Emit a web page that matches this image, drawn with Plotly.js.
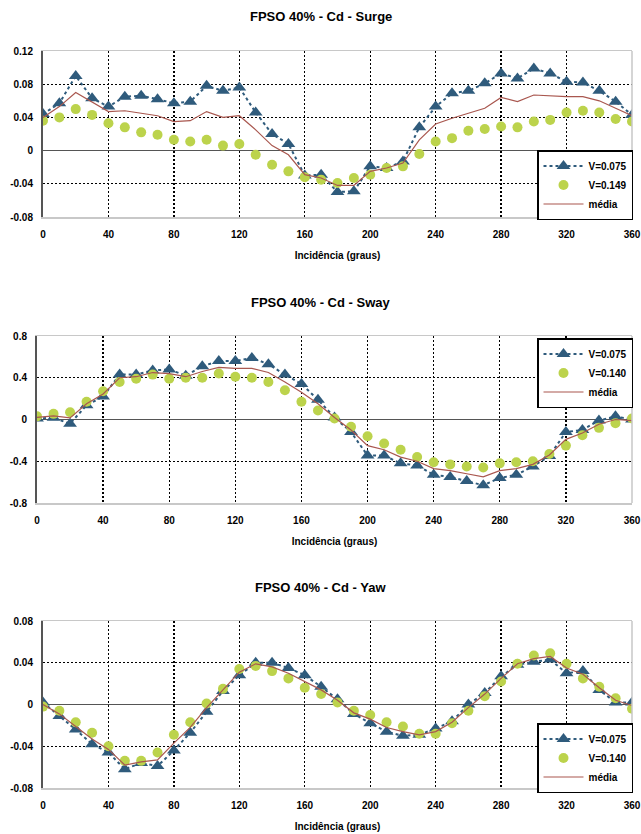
<!DOCTYPE html>
<html>
<head>
<meta charset="utf-8">
<script src="https://cdn.plot.ly/plotly-3.0.1.min.js"></script>
<style>html,body{margin:0;padding:0;background:#fff;}#chart{width:641px;height:834px;}</style>
</head>
<body>
<div id="chart"></div>
<script>
// ---------- data ----------
const angles = [0,10,20,30,40,50,60,70,80,90,100,110,120,130,140,150,160,170,180,190,200,210,220,230,240,250,260,270,280,290,300,310,320,330,340,350,360];

const surgeV075 = [0.044,0.057,0.090,0.063,0.053,0.065,0.066,0.062,0.057,0.059,0.078,0.072,0.076,0.046,0.020,0.008,-0.030,-0.029,-0.050,
                   -0.049,-0.019,-0.021,-0.013,0.028,0.053,0.069,0.072,0.081,0.093,0.087,0.099,0.093,0.083,0.082,0.072,0.059,0.043];
const surgeV149 = [0.036,0.040,0.050,0.043,0.033,0.028,0.022,0.019,0.013,0.011,0.013,0.006,0.008,-0.005,-0.017,-0.025,-0.032,-0.035,-0.039,
                   -0.033,-0.029,-0.021,-0.019,-0.004,0.011,0.015,0.024,0.026,0.029,0.028,0.035,0.037,0.046,0.048,0.046,0.038,0.035];
const surgeMedia = [0.040,0.053,0.070,0.059,0.047,0.048,0.045,0.042,0.035,0.036,0.047,0.040,0.042,0.025,0.006,-0.005,-0.029,-0.033,-0.042,
                    -0.042,-0.025,-0.021,-0.015,0.013,0.032,0.039,0.045,0.051,0.064,0.059,0.067,0.066,0.065,0.065,0.060,0.051,0.042];

const swayV075 = [0.01,0.016,-0.04,0.137,0.22,0.43,0.43,0.47,0.48,0.42,0.51,0.56,0.56,0.59,0.53,0.43,0.34,0.19,0.02,
                  -0.12,-0.345,-0.345,-0.42,-0.44,-0.53,-0.55,-0.59,-0.63,-0.56,-0.53,-0.45,-0.35,-0.12,-0.10,-0.01,0.03,0.0];
const swayV140 = [0.03,0.054,0.07,0.17,0.27,0.36,0.39,0.43,0.39,0.40,0.40,0.44,0.41,0.40,0.36,0.28,0.17,0.086,0.01,
                  -0.07,-0.16,-0.23,-0.29,-0.36,-0.41,-0.43,-0.45,-0.46,-0.42,-0.41,-0.40,-0.33,-0.25,-0.15,-0.08,-0.035,0.01];
const swayMedia = [0.02,0.035,0.015,0.15,0.245,0.40,0.41,0.45,0.44,0.41,0.46,0.50,0.49,0.49,0.45,0.36,0.26,0.15,0.02,
                   -0.10,-0.25,-0.29,-0.36,-0.40,-0.47,-0.49,-0.52,-0.55,-0.49,-0.47,-0.43,-0.34,-0.19,-0.13,-0.045,0.0,-0.01];

const yawV075 = [0.002,-0.011,-0.024,-0.038,-0.046,-0.062,-0.056,-0.059,-0.044,-0.027,-0.007,0.013,0.028,0.040,0.040,0.035,0.028,0.017,0.005,
                 -0.009,-0.018,-0.026,-0.030,-0.029,-0.023,-0.016,0.000,0.011,0.027,0.038,0.041,0.043,0.030,0.032,0.014,0.002,0.002];
const yawV140 = [-0.002,-0.006,-0.017,-0.027,-0.040,-0.054,-0.054,-0.046,-0.029,-0.017,0.001,0.015,0.034,0.037,0.032,0.025,0.016,0.010,0.002,
                 -0.006,-0.010,-0.017,-0.021,-0.028,-0.028,-0.018,-0.006,0.008,0.022,0.039,0.047,0.049,0.039,0.025,0.017,0.006,-0.004];
const yawMedia = [0.0,-0.009,-0.021,-0.033,-0.043,-0.058,-0.055,-0.053,-0.037,-0.022,-0.003,0.014,0.031,0.039,0.036,0.030,0.022,0.014,0.004,
                  -0.008,-0.014,-0.022,-0.026,-0.029,-0.026,-0.017,-0.003,0.010,0.025,0.039,0.044,0.046,0.035,0.029,0.016,0.004,-0.001];

const xTickVals = [0,40,80,120,160,200,240,280,320,360];
const xTickText = ["0","40","80","120","160","200","240","280","320","360"];
const surgeTickVals = [-0.08,-0.04,0,0.04,0.08,0.12];
const surgeTickText = ["-0.08","-0.04","0","0.04","0.08","0.12"];
const swayTickVals = [-0.8,-0.4,0,0.4,0.8];
const swayTickText = ["-0.8","-0.4","0","0.4","0.8"];
const yawTickVals = [-0.08,-0.04,0,0.04,0.08];
const yawTickText = ["-0.08","-0.04","0","0.04","0.08"];

const titles = ["FPSO 40% - Cd - Surge","FPSO 40% - Cd - Sway","FPSO 40% - Cd - Yaw"];
const xTitle = "Incidência (graus)";
const labelsSurge = ["V=0.075","V=0.149","média"];
const labelsOther = ["V=0.075","V=0.140","média"];

// ---------- style ----------
const W = 641, H = 834;
const BLUE = "#2f5b7c", GREEN = "#bcd34c", MEDIA = "#a9574f";
const FONT = "Liberation Sans, Arial, sans-serif";

function traces(v1, v2, vm, labels, xa, ya, leg) {
  return [
    {x: angles, y: v1, name: labels[0], xaxis: xa, yaxis: ya, legend: leg, mode: "lines+markers", type: "scatter",
     line: {color: BLUE, dash: "dot", width: 2}, marker: {symbol: "triangle-up", size: 12, color: BLUE}},
    {x: angles, y: v2, name: labels[1], xaxis: xa, yaxis: ya, legend: leg, mode: "markers", type: "scatter",
     marker: {symbol: "circle", size: 10, color: GREEN}},
    {x: angles, y: vm, name: labels[2], xaxis: xa, yaxis: ya, legend: leg, mode: "lines", type: "scatter",
     line: {color: MEDIA, width: 1.2}}
  ];
}

const data = [].concat(
  traces(surgeV075, surgeV149, surgeMedia, labelsSurge, "x", "y", "legend"),
  traces(swayV075, swayV140, swayMedia, labelsOther, "x2", "y2", "legend2"),
  traces(yawV075, yawV140, yawMedia, labelsOther, "x3", "y3", "legend3")
);

function xax(left, anchor) {
  return {domain: [left / W, 632 / W], anchor: anchor, range: [0, 360], tickmode: "array",
    tickvals: xTickVals, ticktext: xTickText, showgrid: true, griddash: "2px,2px", gridcolor: "#000", gridwidth: 1.3,
    zeroline: false, showline: true, linecolor: "#c8c8c8", linewidth: 1.5, mirror: true, ticks: "",
    ticklabelstandoff: 7, tickfont: {family: FONT, size: 10, color: "#000", weight: "bold"},
    title: {text: xTitle, standoff: 13, font: {family: FONT, size: 10, color: "#000", weight: "bold"}},
    fixedrange: true};
}
function yax(top, bottom, range, tv, tt, anchor) {
  return {domain: [1 - bottom / H, 1 - top / H], anchor: anchor, range: range, tickmode: "array",
    tickvals: tv, ticktext: tt, showgrid: true, griddash: "2px,2px", gridcolor: "#000", gridwidth: 1.3,
    zeroline: true, zerolinecolor: "#555", zerolinewidth: 1.5,
    showline: true, linecolor: "#555", linewidth: 2, mirror: false, ticks: "",
    ticklabelstandoff: 6, tickfont: {family: FONT, size: 10, color: "#000", weight: "bold"}, fixedrange: true};
}
function legend(x, y, yanchor) {
  return {x: x, y: y, xanchor: "right", yanchor: yanchor, xref: "paper", yref: "paper",
    bgcolor: "#fff", bordercolor: "#000", borderwidth: 1.5, itemwidth: 40, tracegroupgap: 0,
    font: {family: FONT, size: 10, color: "#000", weight: "bold"}};
}
function border(xa, ya) {
  return {type: "rect", xref: xa + " domain", yref: ya + " domain", x0: 1, x1: 1, y0: 0, y1: 1,
    line: {color: "#c8c8c8", width: 1.5}, layer: "above"};
}

const layout = {
  width: W, height: H, margin: {l: 0, r: 0, t: 0, b: 0},
  paper_bgcolor: "#fff", plot_bgcolor: "#fff", showlegend: true,
  xaxis: xax(43, "y"), yaxis: yax(51, 217, [-0.08, 0.12], surgeTickVals, surgeTickText, "x"),
  xaxis2: xax(37, "y2"), yaxis2: yax(336, 503, [-0.8, 0.8], swayTickVals, swayTickText, "x2"),
  xaxis3: xax(43, "y3"), yaxis3: yax(621, 788, [-0.08, 0.08], yawTickVals, yawTickText, "x3"),
  legend: legend(633 / W, 1 - 220 / H, "bottom"),
  legend2: legend(633 / W, 1 - 338 / H, "top"),
  legend3: legend(633 / W, 1 - 793 / H, "bottom"),
  shapes: [border("x", "y"), border("x2", "y2"), border("x3", "y3")],
  annotations: [
    {text: titles[0], x: 0.5, y: 1 - 17 / H},
    {text: titles[1], x: 0.5, y: 1 - 303 / H},
    {text: titles[2], x: 0.5, y: 1 - 587 / H}
  ].map(a => Object.assign(a, {xref: "paper", yref: "paper", xanchor: "center", yanchor: "middle",
    showarrow: false, font: {family: FONT, size: 13, color: "#000", weight: "bold"}}))
};

Plotly.newPlot("chart", data, layout, {staticPlot: true, displayModeBar: false});
</script>
</body>
</html>
